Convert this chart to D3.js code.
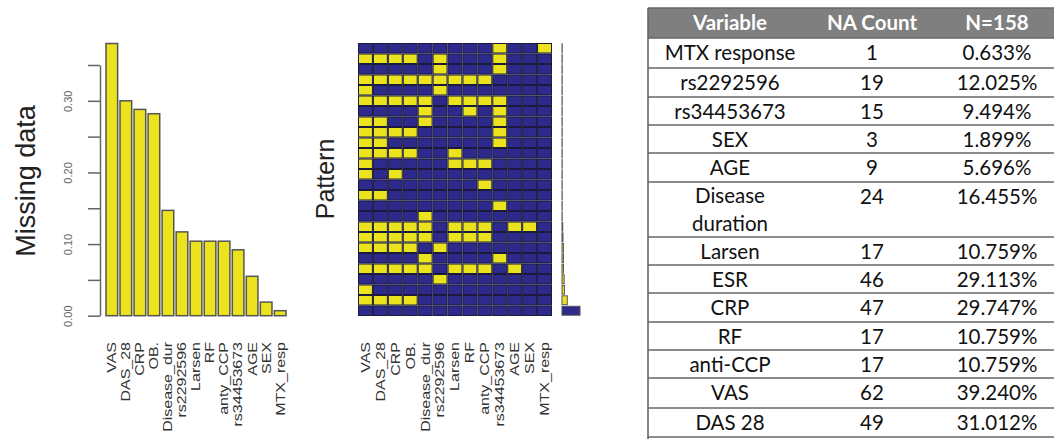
<!DOCTYPE html>
<html>
<head>
<meta charset="utf-8">
<script src="https://cdn.jsdelivr.net/npm/d3@7"></script>
<style>
  body { margin: 0; background: #fff; }
  svg { display: block; }
</style>
</head>
<body>
<div id="chart"></div>
<script>
// variables in the order of the missingness plot
const variables = ["VAS", "DAS_28", "CRP", "OB.", "Disease_dur", "rs2292596", "Larsen", "RF",
                   "anty_CCP", "rs34453673", "AGE", "SEX", "MTX_resp"];
// proportion missing
const missingProp = [0.380, 0.300, 0.288, 0.282, 0.147, 0.117, 0.104, 0.104, 0.104, 0.092, 0.055, 0.019, 0.007];
const yTicks = [0, 0.05, 0.10, 0.15, 0.20, 0.25, 0.30, 0.35];
const yTickLabels = [0, 0.10, 0.20, 0.30];

// missingness patterns (1 = missing), top row to bottom row
const patterns = [
  "0000000001001",
  "1111010001000",
  "0000010001000",
  "1111111110000",
  "1000010000000",
  "1111101111000",
  "0000100101000",
  "1100100001000",
  "1111000001000",
  "1100000001000",
  "1111001000000",
  "1000001110000",
  "1010000000000",
  "0000000010000",
  "1100000000000",
  "0000000001000",
  "0000100000000",
  "1111101110110",
  "1111101110000",
  "1111010000000",
  "0000100001000",
  "1111101110100",
  "0000010000000",
  "1000000000000",
  "1111000000000",
  "0000000000000"
];
// how many cases share each pattern
const patternCount = [1, 1, 1, 1, 1, 1, 1, 1, 1, 1, 1, 1, 1, 1, 1, 1, 1, 3, 4, 6, 6, 6, 9, 10, 22, 75];

// table
const tableHeader = ["Variable", "NA Count", "N=158"];
const tableVars = ["MTX response", "rs2292596", "rs34453673", "SEX", "AGE", "Disease duration",
                   "Larsen", "ESR", "CRP", "RF", "anti-CCP", "VAS", "DAS 28"];
const naCounts = [1, 19, 15, 3, 9, 24, 17, 46, 47, 17, 17, 62, 49];
const naPercents = ["0.633%", "12.025%", "9.494%", "1.899%", "5.696%", "16.455%", "10.759%",
                    "29.113%", "29.747%", "10.759%", "10.759%", "39.240%", "31.012%"];

const W = 1054, H = 439;
const yellow = "#ebe31e";
const navy = "#2e2a8c";
const rFont = "Liberation Sans, Arial, sans-serif";

const svg = d3.select("#chart").append("svg")
    .attr("width", W)
    .attr("height", H);

// ---------- left: proportion of missings ----------
const x = d3.scaleBand()
    .domain(variables)
    .range([104.8, 287.2])
    .paddingInner(0.17)
    .paddingOuter(0.085);

const y = d3.scaleLinear()
    .domain([0, 0.35])
    .range([315.7, 65]);

svg.append("g").selectAll("rect")
    .data(variables)
    .enter()
    .append("rect")
        .attr("x", d => x(d))
        .attr("y", (d, i) => y(missingProp[i]))
        .attr("width", x.bandwidth())
        .attr("height", (d, i) => y(0) - y(missingProp[i]))
        .style("fill", yellow)
        .style("stroke", "#555")
        .style("stroke-width", 1.5);

const yAxis = svg.append("g")
    .attr("transform", "translate(100,0)")
    .call(d3.axisLeft(y)
        .tickValues(yTicks)
        .tickSize(12)
        .tickSizeOuter(0)
        .tickFormat(d => yTickLabels.some(v => Math.abs(v - d) < 1e-9) ? d3.format(".2f")(d) : ""));
yAxis.select(".domain").style("stroke", "#666").style("stroke-width", 1.5);
yAxis.selectAll(".tick line").style("stroke", "#666").style("stroke-width", 1.5);
yAxis.selectAll(".tick text")
    .attr("x", 0)
    .attr("dy", null)
    .attr("transform", "translate(-28,0) rotate(-90)")
    .attr("text-anchor", "middle")
    .style("font-family", rFont)
    .style("font-size", "11px")
    .style("fill", "#666");

svg.append("text")
    .attr("transform", "translate(35,181) rotate(-90)")
    .attr("text-anchor", "middle")
    .style("font-family", rFont)
    .style("font-size", "27px")
    .style("fill", "#222")
    .text("Missing data");

// axis labels, stretched along the text like the source image
function varLabels(scale) {
    svg.append("g").selectAll("text")
        .data(variables)
        .enter()
        .append("text")
            .attr("transform", d => "translate(" + (scale(d) + scale.bandwidth() / 2) + ",342) rotate(-90) scale(1.28,1)")
            .attr("text-anchor", "end")
            .attr("dy", "0.35em")
            .style("font-family", rFont)
            .style("font-size", "12.5px")
            .style("fill", "#333")
            .text(d => d);
}
varLabels(x);

// ---------- middle: pattern grid ----------
const gx = d3.scaleBand()
    .domain(variables)
    .range([358, 552]);

const gy = d3.scaleBand()
    .domain(d3.range(patterns.length))
    .range([43, 316]);

const grid = svg.append("g");
patterns.forEach((p, r) => {
    grid.selectAll(null)
        .data(variables)
        .enter()
        .append("rect")
            .attr("x", d => gx(d) + 0.5)
            .attr("y", gy(r) + 0.5)
            .attr("width", gx.bandwidth() - 1)
            .attr("height", gy.bandwidth() - 1)
            .style("fill", (d, i) => p[i] === "1" ? yellow : navy)
            .style("stroke", "#1c1a3c")
            .style("stroke-width", 1);
});

svg.append("text")
    .attr("transform", "translate(334,179) rotate(-90)")
    .attr("text-anchor", "middle")
    .style("font-family", rFont)
    .style("font-size", "25px")
    .style("fill", "#222")
    .text("Pattern");

varLabels(gx);

// pattern frequencies on the right of the grid
const fx = d3.scaleLinear()
    .domain([0, d3.max(patternCount)])
    .range([0, 18]);

svg.append("g").selectAll("rect")
    .data(patternCount)
    .enter()
    .append("rect")
        .attr("x", 562)
        .attr("y", (d, i) => gy(i) + 0.8)
        .attr("width", d => fx(d))
        .attr("height", gy.bandwidth() - 1.6)
        .style("fill", (d, i) => i === patterns.length - 1 ? navy : yellow)
        .style("stroke", "#555")
        .style("stroke-width", 1);

// ---------- right: NA table ----------
const colX = [730, 872, 997];
const rowLines = [38, 68, 97, 125, 153, 182, 237, 265, 293, 322, 350, 378, 408, 437];
const tableFont = "Lato, 'Open Sans', sans-serif";
const tSize = "20.5px";

const table = svg.append("g");
table.append("rect")
    .attr("x", 648)
    .attr("y", 8)
    .attr("width", 406)
    .attr("height", 30)
    .style("fill", "#7f7f7f");

table.selectAll(".head")
    .data(tableHeader)
    .enter()
    .append("text")
        .attr("class", "head")
        .attr("x", (d, i) => colX[i])
        .attr("y", 23)
        .attr("dy", "0.35em")
        .attr("text-anchor", "middle")
        .style("font-family", tableFont)
        .style("font-weight", "bold")
        .style("font-size", tSize)
        .style("fill", "#fff")
        .text(d => d);

table.selectAll(".hline")
    .data([8].concat(rowLines))
    .enter()
    .append("line")
        .attr("class", "hline")
        .attr("x1", 648)
        .attr("x2", 1054)
        .attr("y1", d => d)
        .attr("y2", d => d)
        .style("stroke", "#666")
        .style("stroke-width", 1.6);

table.append("line")
    .attr("x1", 648).attr("x2", 648)
    .attr("y1", 8).attr("y2", H)
    .style("stroke", "#666")
    .style("stroke-width", 1.6);

function cell(cx, cy, t) {
    table.append("text")
        .attr("x", cx)
        .attr("y", cy)
        .attr("dy", "0.35em")
        .attr("text-anchor", "middle")
        .style("font-family", tableFont)
        .style("font-size", tSize)
        .style("fill", "#111")
        .text(t);
}

tableVars.forEach((v, i) => {
    const top = rowLines[i];
    if (v === "Disease duration") {
        cell(colX[0], top + 14, "Disease");
        cell(colX[0], top + 42, "duration");
    } else {
        cell(colX[0], top + 15, v);
    }
    cell(colX[1], top + 15, naCounts[i]);
    cell(colX[2], top + 15, naPercents[i]);
});
</script>
</body>
</html>
